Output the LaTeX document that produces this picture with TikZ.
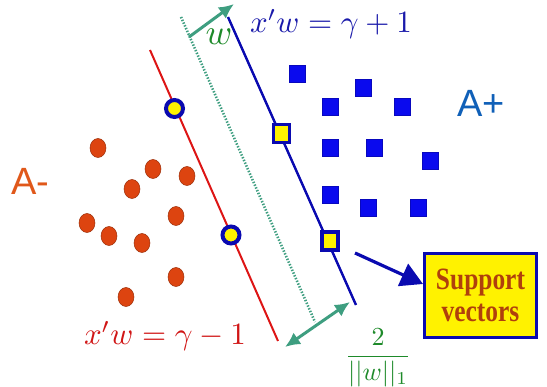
\documentclass[tikz,border=0pt]{standalone}
\usepackage{fontspec}
\newfontfamily\labsans{Liberation Sans}
\newfontfamily\labserif{Liberation Serif}
\usetikzlibrary{arrows.meta,shapes.geometric}
\definecolor{redline}{HTML}{DD1515}
\definecolor{blueline}{HTML}{0A0AB0}
\definecolor{sqblue}{HTML}{0A0AEE}
\definecolor{dotred}{HTML}{DD4410}
\definecolor{tealg}{HTML}{3E9E80}
\definecolor{mathblue}{HTML}{1A1AAA}
\definecolor{mathred}{HTML}{D01515}
\definecolor{mathgreen}{HTML}{1E8A2A}
\definecolor{aorange}{HTML}{E0581A}
\definecolor{ablue}{HTML}{1060B8}
\definecolor{svtext}{HTML}{B0400C}
\tikzset{
  negdot/.style={ellipse, draw=dotred!70!black, line width=0.5pt, fill=dotred, minimum width=16pt, minimum height=19pt, inner sep=0pt},
  possq/.style={rectangle, draw=sqblue!80!black, line width=0.5pt, fill=sqblue, minimum width=16pt, minimum height=17pt, inner sep=0pt},
  svcirc/.style={circle, draw=blueline, line width=4pt, fill=yellow, minimum size=17pt, inner sep=0pt},
  svsq/.style={rectangle, draw=blueline, line width=3.6pt, fill=yellow, minimum width=16pt, minimum height=18pt, inner sep=0pt},
}
\begin{document}
\begin{tikzpicture}[x=1pt,y=-1pt]
\useasboundingbox (0,0) rectangle (547,387);
% lines
\coordinate (rt) at (150,50);
\coordinate (rb) at (278,341);
\coordinate (bt) at (228,17);
\coordinate (bb) at (356,305);
\coordinate (dt) at (181,17);
\coordinate (db) at (315,322);
\draw[redline, line width=2pt] (rt) -- (rb);
\draw[blueline, line width=2.4pt] (bt) -- (bb);
\draw[tealg, line width=2.6pt, dash pattern=on 1.4pt off 1.6pt] (dt) -- (db);
% w arrow
\coordinate (wa) at (189,37);
\coordinate (wb) at (234,4);
\draw[tealg, line width=3pt, -{Latex[length=15pt,width=14pt]}] (wa) -- (wb);
% margin double arrow
\coordinate (ma) at (285,347);
\coordinate (mb) at (350,302);
\draw[tealg, line width=3pt, {Latex[length=15pt,width=14pt]}-{Latex[length=15pt,width=14pt]}] (ma) -- (mb);
% negative points
\node[negdot] (n1) at (98,148) {};
\node[negdot] (n2) at (132,189) {};
\node[negdot] (n3) at (153,169) {};
\node[negdot] (n4) at (187,176) {};
\node[negdot] (n5) at (87,223) {};
\node[negdot] (n6) at (109,236) {};
\node[negdot] (n7) at (142,243) {};
\node[negdot] (n8) at (176,216) {};
\node[negdot] (n9) at (176,277) {};
\node[negdot] (n10) at (126,297) {};
% positive points
\node[possq] (p1) at (297,74) {};
\node[possq] (p2) at (363,88) {};
\node[possq] (p3) at (330,107) {};
\node[possq] (p4) at (402,107) {};
\node[possq] (p5) at (330,148) {};
\node[possq] (p6) at (374,148) {};
\node[possq] (p7) at (430,161) {};
\node[possq] (p8) at (330,195) {};
\node[possq] (p9) at (368,208) {};
\node[possq] (p10) at (418,208) {};
% support vectors
\node[svcirc] (s1) at (174.5,108.5) {};
\node[svcirc] (s2) at (231,235) {};
\node[svsq] (s3) at (281.5,133.5) {};
\node[svsq] (s4) at (330,241) {};
% labels
\node[text=aorange, font=\labsans\fontsize{38}{40}\selectfont, anchor=base] (am) at (30,195) {A-};
\node[text=ablue, font=\labsans\fontsize{38}{40}\selectfont, anchor=base] (ap) at (481,117) {A+};
\node[text=mathblue, anchor=base, inner sep=0pt] (lp) at (331,33) {\scalebox{3.1}{$x'w=\gamma+1$}};
\node[text=mathred, anchor=base, inner sep=0pt] (lm) at (165,345) {\scalebox{3.1}{$x'w=\gamma-1$}};
\node[text=mathgreen, anchor=base, inner sep=0pt] (wl) at (219,45) {\scalebox{3.6}{$w$}};
\node[text=mathgreen, inner sep=0pt] (fr) at (378,358) {\scalebox{2.6}{$\displaystyle\frac{2}{||w||_1}$}};
% support vectors box
\node[draw=blueline, line width=3pt, fill=yellow, minimum width=112pt, minimum height=84pt, inner sep=0pt, align=center,
  text=svtext, font=\labserif\bfseries\fontsize{31}{33}\selectfont] (box) at (480.5,295.5) {\scalebox{0.82}[1]{Support}\\[-1pt]\scalebox{0.82}[1]{vectors}};
\coordinate (ast) at (355,253);
\draw[blueline, line width=3.2pt, -{Triangle[length=22pt,width=24pt]}] (ast) -- (box.west |- 0,284);
\end{tikzpicture}
\end{document}
